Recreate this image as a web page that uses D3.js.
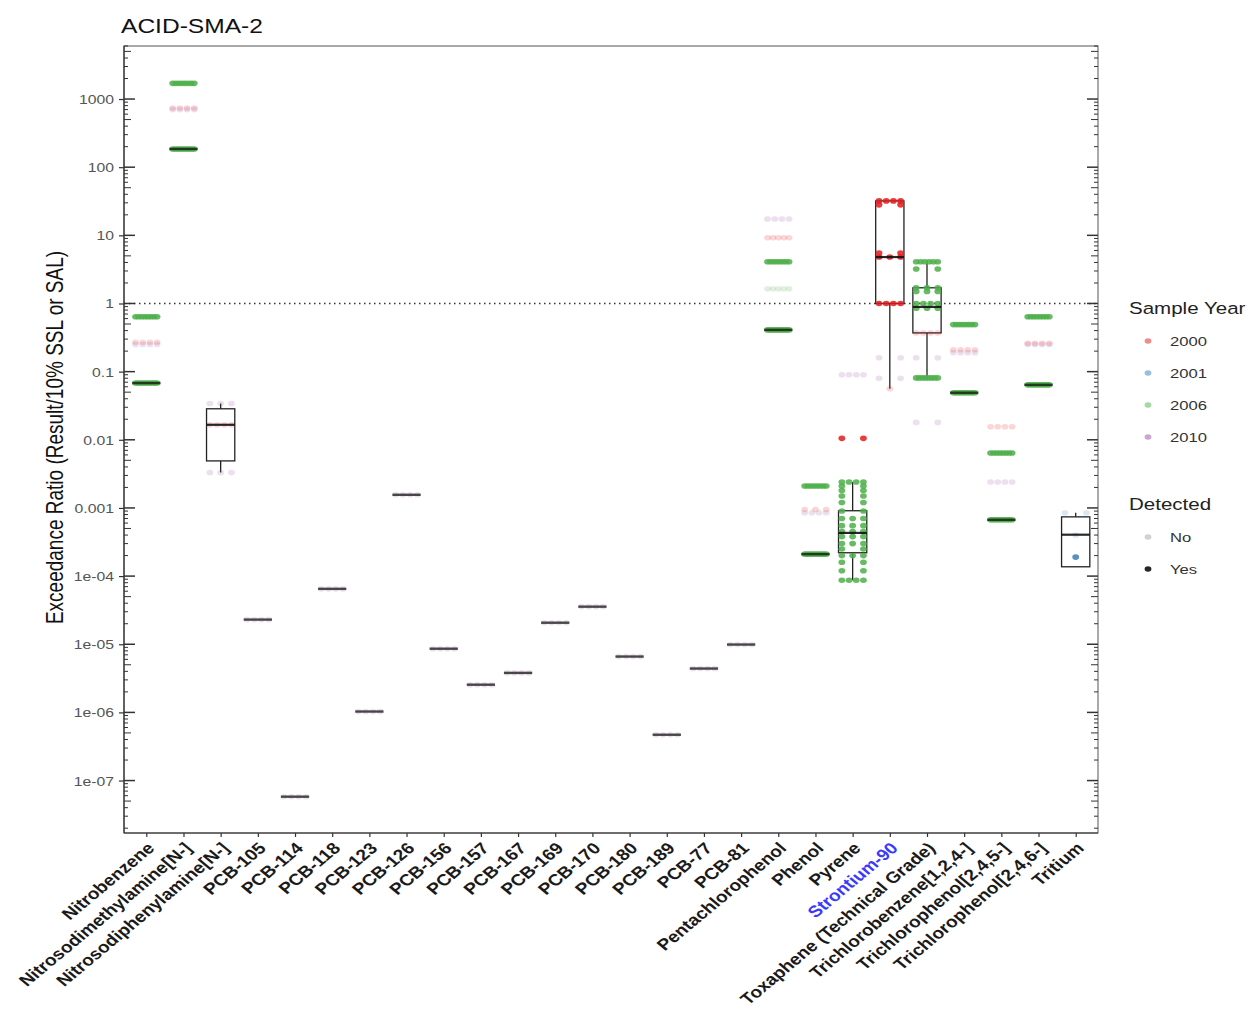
<!DOCTYPE html>
<html>
<head>
<meta charset="utf-8">
<script src="https://cdn.jsdelivr.net/npm/d3@7"></script>
<style>
  body { margin: 0; background: #fff; }
  svg { display: block; font-family: "Liberation Sans", Arial, sans-serif; }
</style>
</head>
<body>
<svg id="chart" width="1250" height="1019"></svg>
<script>
// ---------------- DATA ----------------
const title = "ACID-SMA-2";
const yAxisTitle = "Exceedance Ratio (Result/10% SSL or SAL)";

const categories = [
  "Nitrobenzene", "Nitrosodimethylamine[N-]", "Nitrosodiphenylamine[N-]",
  "PCB-105", "PCB-114", "PCB-118", "PCB-123", "PCB-126", "PCB-156", "PCB-157",
  "PCB-167", "PCB-169", "PCB-170", "PCB-180", "PCB-189", "PCB-77", "PCB-81",
  "Pentachlorophenol", "Phenol", "Pyrene", "Strontium-90",
  "Toxaphene (Technical Grade)", "Trichlorobenzene[1,2,4-]",
  "Trichlorophenol[2,4,5-]", "Trichlorophenol[2,4,6-]", "Tritium"
];
const highlightedCategories = ["Strontium-90"];

// Box statistics per category (same order as categories)
const boxLow    = [0.068, 185, 0.0033, 2.3e-5, 5.8e-8, 6.5e-5, 1.03e-6, 0.00156, 8.6e-6, 2.55e-6, 3.8e-6, 2.07e-5, 3.56e-5, 6.6e-6, 4.7e-7, 4.4e-6, 9.9e-6, 0.41, 0.00021, 8.7e-5, 0.056, 0.081, 0.049, 0.00067, 0.064, 0.000137];
const boxQ1     = [0.068, 185, 0.0049, 2.3e-5, 5.8e-8, 6.5e-5, 1.03e-6, 0.00156, 8.6e-6, 2.55e-6, 3.8e-6, 2.07e-5, 3.56e-5, 6.6e-6, 4.7e-7, 4.4e-6, 9.9e-6, 0.41, 0.00021, 0.00022, 1.0, 0.37, 0.049, 0.00067, 0.064, 0.000137];
const boxMedian = [0.068, 185, 0.0166, 2.3e-5, 5.8e-8, 6.5e-5, 1.03e-6, 0.00156, 8.6e-6, 2.55e-6, 3.8e-6, 2.07e-5, 3.56e-5, 6.6e-6, 4.7e-7, 4.4e-6, 9.9e-6, 0.41, 0.00021, 0.00043, 4.8, 0.89, 0.049, 0.00067, 0.064, 0.000405];
const boxQ3     = [0.068, 185, 0.0285, 2.3e-5, 5.8e-8, 6.5e-5, 1.03e-6, 0.00156, 8.6e-6, 2.55e-6, 3.8e-6, 2.07e-5, 3.56e-5, 6.6e-6, 4.7e-7, 4.4e-6, 9.9e-6, 0.41, 0.00021, 0.00091, 32, 1.7, 0.049, 0.00067, 0.064, 0.00074];
const boxHigh   = [0.068, 185, 0.034, 2.3e-5, 5.8e-8, 6.5e-5, 1.03e-6, 0.00156, 8.6e-6, 2.55e-6, 3.8e-6, 2.07e-5, 3.56e-5, 6.6e-6, 4.7e-7, 4.4e-6, 9.9e-6, 0.41, 0.00021, 0.0024, 32, 4.1, 0.049, 0.00067, 0.064, 0.00085];

// Sample points, grouped (category, value, year, detected, count)
const pointCategory = [
  "Nitrobenzene","Nitrobenzene","Nitrobenzene","Nitrobenzene",
  "Nitrosodimethylamine[N-]","Nitrosodimethylamine[N-]","Nitrosodimethylamine[N-]","Nitrosodimethylamine[N-]",
  "Nitrosodiphenylamine[N-]","Nitrosodiphenylamine[N-]","Nitrosodiphenylamine[N-]",
  "PCB-105","PCB-114","PCB-118","PCB-123","PCB-126","PCB-156","PCB-157","PCB-167","PCB-169","PCB-170","PCB-180","PCB-189","PCB-77","PCB-81",
  "Pentachlorophenol","Pentachlorophenol","Pentachlorophenol","Pentachlorophenol","Pentachlorophenol",
  "Phenol","Phenol","Phenol","Phenol",
  "Pyrene","Pyrene","Pyrene","Pyrene","Pyrene","Pyrene","Pyrene","Pyrene","Pyrene","Pyrene","Pyrene","Pyrene","Pyrene","Pyrene","Pyrene","Pyrene","Pyrene","Pyrene",
  "Strontium-90","Strontium-90","Strontium-90","Strontium-90","Strontium-90","Strontium-90","Strontium-90","Strontium-90",
  "Toxaphene (Technical Grade)","Toxaphene (Technical Grade)","Toxaphene (Technical Grade)","Toxaphene (Technical Grade)","Toxaphene (Technical Grade)","Toxaphene (Technical Grade)","Toxaphene (Technical Grade)","Toxaphene (Technical Grade)","Toxaphene (Technical Grade)","Toxaphene (Technical Grade)",
  "Trichlorobenzene[1,2,4-]","Trichlorobenzene[1,2,4-]","Trichlorobenzene[1,2,4-]","Trichlorobenzene[1,2,4-]",
  "Trichlorophenol[2,4,5-]","Trichlorophenol[2,4,5-]","Trichlorophenol[2,4,5-]","Trichlorophenol[2,4,5-]",
  "Trichlorophenol[2,4,6-]","Trichlorophenol[2,4,6-]","Trichlorophenol[2,4,6-]","Trichlorophenol[2,4,6-]",
  "Tritium","Tritium","Tritium"
];
const pointValue = [
  0.64, 0.27, 0.25, 0.068,
  1700, 740, 700, 185,
  0.034, 0.0166, 0.0033,
  2.3e-5, 5.8e-8, 6.5e-5, 1.03e-6, 0.00156, 8.6e-6, 2.55e-6, 3.8e-6, 2.07e-5, 3.56e-5, 6.6e-6, 4.7e-7, 4.4e-6, 9.9e-6,
  17.4, 9.2, 4.1, 1.64, 0.41,
  0.0021, 0.00095, 0.00085, 0.00021,
  0.09, 0.0105, 0.0024, 0.0021, 0.0018, 0.0015, 0.0012, 0.0009, 0.0007, 0.00055, 0.00045, 0.00038, 0.0003, 0.00025, 0.0002, 0.00016, 0.00012, 8.7e-5,
  32, 28, 5.5, 4.8, 1.0, 0.16, 0.08, 0.056,
  4.1, 3.2, 1.5, 1.0, 0.85, 0.37, 0.16, 0.081, 0.018, 1.7,
  0.49, 0.21, 0.19, 0.049,
  0.0155, 0.0064, 0.0024, 0.00067,
  0.64, 0.26, 0.25, 0.064,
  0.00085, 0.0004, 0.00019
];
const pointYear = [
  2006, 2000, 2010, 2006,
  2006, 2000, 2010, 2006,
  2010, 2000, 2010,
  2010, 2010, 2010, 2010, 2010, 2010, 2010, 2010, 2010, 2010, 2010, 2010, 2010, 2010,
  2010, 2000, 2006, 2006, 2006,
  2006, 2000, 2010, 2006,
  2010, 2000, 2006, 2006, 2006, 2006, 2006, 2006, 2006, 2006, 2006, 2006, 2006, 2006, 2006, 2006, 2006, 2006,
  2000, 2000, 2000, 2000, 2000, 2010, 2010, 2000,
  2006, 2006, 2006, 2006, 2006, 2000, 2010, 2006, 2010, 2006,
  2006, 2000, 2010, 2006,
  2000, 2006, 2010, 2006,
  2006, 2000, 2010, 2006,
  2001, 2001, 2001
];
const pointDetected = [
  "Yes", "No", "No", "Yes",
  "Yes", "No", "No", "Yes",
  "No", "No", "No",
  "No", "No", "No", "No", "No", "No", "No", "No", "No", "No", "No", "No", "No", "No",
  "No", "No", "Yes", "No", "Yes",
  "Yes", "No", "No", "Yes",
  "No", "Yes", "Yes", "Yes", "Yes", "Yes", "Yes", "Yes", "Yes", "Yes", "Yes", "Yes", "Yes", "Yes", "Yes", "Yes", "Yes", "Yes",
  "Yes", "Yes", "Yes", "Yes", "Yes", "No", "No", "No",
  "Yes", "Yes", "Yes", "Yes", "Yes", "No", "No", "Yes", "No", "Yes",
  "Yes", "No", "No", "Yes",
  "No", "Yes", "No", "Yes",
  "Yes", "No", "No", "Yes",
  "No", "No", "Yes"
];
const pointCount = [
  8, 4, 4, 10,
  8, 4, 4, 10,
  3, 4, 3,
  4, 4, 4, 4, 4, 4, 4, 4, 4, 4, 4, 4, 4, 4,
  4, 5, 8, 5, 10,
  8, 3, 4, 10,
  4, 2, 4, 2, 2, 2, 2, 2, 3, 3, 3, 3, 3, 2, 3, 2, 2, 4,
  4, 2, 2, 3, 4, 2, 2, 1,
  6, 2, 3, 4, 3, 4, 2, 8, 2, 3,
  8, 4, 4, 10,
  4, 8, 4, 10,
  8, 4, 4, 10,
  2, 1, 1
];

const yearLevels = [2000, 2001, 2006, 2010];
const yearColors = ["#E41A1C", "#377EB8", "#4DAF4A", "#984EA3"];
const detectedLevels = ["No", "Yes"];
const detectedAlpha = [0.18, 0.85];

const yTickValues = [1000, 100, 10, 1, 0.1, 0.01, 0.001, 1e-4, 1e-5, 1e-6, 1e-7];
const yTickLabels = ["1000", "100", "10", "1", "0.1", "0.01", "0.001", "1e-04", "1e-05", "1e-06", "1e-07"];
const referenceLine = 1;

// ---------------- LAYOUT ----------------
const SX = 1.26;   // horizontal text stretch seen in the reference
const SXL = 1.2;   // stretch for the rotated category labels
const svg = d3.select("#chart");
const P = { left: 124, right: 1098, top: 46, bottom: 833 };

const x = d3.scalePoint().domain(categories).range([P.left, P.right]).padding(0.6);
const step = x.step();
const y = d3.scaleLog().domain([1.7e-8, 6000]).range([P.bottom, P.top]);
const colorScale = d3.scaleOrdinal().domain(yearLevels).range(yearColors);
const alphaScale = d3.scaleOrdinal().domain(detectedLevels).range(detectedAlpha);

const g = svg.append("g");

// title
svg.append("text").attr("transform", `translate(121,33) scale(${SX},1)`)
  .attr("font-size", 19.5).attr("fill", "#111").text(title);

// y axis title
svg.append("text")
  .attr("transform", `translate(63,${(P.top + P.bottom) / 2 - 2}) rotate(-90) scale(1,${SX})`)
  .attr("text-anchor", "middle").attr("font-size", 19).attr("fill", "#111")
  .text(yAxisTitle);

// clip for panel
svg.append("clipPath").attr("id", "panel")
  .append("rect").attr("x", P.left).attr("y", P.top)
  .attr("width", P.right - P.left).attr("height", P.bottom - P.top);

const panel = g.append("g").attr("clip-path", "url(#panel)");

// reference line
panel.append("line")
  .attr("x1", P.left).attr("x2", P.right)
  .attr("y1", y(referenceLine)).attr("y2", y(referenceLine))
  .attr("stroke", "#333").attr("stroke-width", 1.4)
  .attr("stroke-dasharray", "1.5,3.5");

// boxplots
const boxW = step * 0.76;
const boxes = categories.map((c, i) => ({
  c, lo: boxLow[i], q1: boxQ1[i], med: boxMedian[i], q3: boxQ3[i], hi: boxHigh[i]
}));
const bg = panel.append("g");
boxes.forEach(b => {
  const cx = x(b.c);
  bg.append("line").attr("x1", cx).attr("x2", cx)
    .attr("y1", y(b.q3)).attr("y2", y(b.hi))
    .attr("stroke", "#222").attr("stroke-width", 1.3);
  bg.append("line").attr("x1", cx).attr("x2", cx)
    .attr("y1", y(b.q1)).attr("y2", y(b.lo))
    .attr("stroke", "#222").attr("stroke-width", 1.3);
  bg.append("rect").attr("x", cx - boxW / 2).attr("width", boxW)
    .attr("y", y(b.q3)).attr("height", Math.max(0, y(b.q1) - y(b.q3)))
    .attr("fill", "white").attr("fill-opacity", 0)
    .attr("stroke", "#222").attr("stroke-width", 1.3);
});

// points (deterministic horizontal spread)
const pts = [];
pointValue.forEach((v, i) => {
  const n = pointCount[i];
  for (let k = 0; k < n; k++) {
    const frac = n === 1 ? 0.5 : k / (n - 1);
    pts.push({
      c: pointCategory[i], v, year: pointYear[i], det: pointDetected[i],
      dx: (frac - 0.5) * step * 0.58
    });
  }
});
panel.append("g").selectAll("ellipse").data(pts).join("ellipse")
  .attr("cx", d => x(d.c) + d.dx)
  .attr("cy", d => y(d.v))
  .attr("rx", 3.4).attr("ry", 2.8)
  .attr("fill", d => colorScale(d.year))
  .attr("fill-opacity", d => alphaScale(d.det));

// medians on top
const mg = panel.append("g");
boxes.forEach(b => {
  const cx = x(b.c);
  const collapsed = b.q1 === b.q3;
  mg.append("line").attr("x1", cx - boxW / 2).attr("x2", cx + boxW / 2)
    .attr("y1", y(b.med)).attr("y2", y(b.med))
    .attr("stroke", "#111").attr("stroke-opacity", collapsed ? 0.75 : 0.9)
    .attr("stroke-width", collapsed ? 2.4 : 2.2);
});

// panel border
g.append("rect").attr("x", P.left).attr("y", P.top)
  .attr("width", P.right - P.left).attr("height", P.bottom - P.top)
  .attr("fill", "none").attr("stroke", "#555").attr("stroke-width", 1);
g.append("line").attr("x1", P.left).attr("x2", P.left).attr("y1", P.top).attr("y2", P.bottom)
  .attr("stroke", "#333").attr("stroke-width", 1.2);
g.append("line").attr("x1", P.left).attr("x2", P.right).attr("y1", P.bottom).attr("y2", P.bottom)
  .attr("stroke", "#333").attr("stroke-width", 1.2);

// log ticks inside on both sides
const logTicks = [];
for (let k = -8; k <= 3; k++) {
  for (let m = 1; m <= 9; m++) {
    const v = m * Math.pow(10, k);
    if (v >= y.domain()[0] && v <= y.domain()[1]) logTicks.push({ v, m });
  }
}
const tickLen = m => m === 1 ? 11 : (m === 5 ? 7 : 4);
g.append("g").selectAll("line.lt").data(logTicks).join("line")
  .attr("x1", P.left).attr("x2", d => P.left + tickLen(d.m))
  .attr("y1", d => y(d.v)).attr("y2", d => y(d.v))
  .attr("stroke", "#333").attr("stroke-width", d => d.m === 1 ? 1.5 : 1);
g.append("g").selectAll("line.rt").data(logTicks).join("line")
  .attr("x1", P.right).attr("x2", d => P.right - tickLen(d.m))
  .attr("y1", d => y(d.v)).attr("y2", d => y(d.v))
  .attr("stroke", "#333").attr("stroke-width", d => d.m === 1 ? 1.5 : 1);

// y axis (outer ticks + labels)
const yAxis = d3.axisLeft(y).tickValues(yTickValues)
  .tickFormat((d, i) => yTickLabels[i]).tickSize(5);
const ya = g.append("g").attr("transform", `translate(${P.left},0)`).call(yAxis);
ya.select(".domain").remove();
ya.selectAll(".tick line").attr("stroke", "#333").attr("stroke-width", 1.2);
ya.selectAll(".tick text")
  .attr("x", 0).attr("dy", "0.36em")
  .attr("transform", `translate(-10,0) scale(${SX},1)`)
  .attr("font-size", 12.5).attr("fill", "#555")
  .attr("font-family", "Liberation Sans, Arial, sans-serif");

// x axis
const xAxis = d3.axisBottom(x).tickSize(4);
const xa = g.append("g").attr("transform", `translate(0,${P.bottom})`).call(xAxis);
xa.select(".domain").remove();
xa.selectAll(".tick line").attr("stroke", "#333").attr("stroke-width", 1.2);
xa.selectAll(".tick text")
  .attr("x", 0).attr("y", 0)
  .attr("font-size", 16).attr("font-weight", "bold")
  .attr("font-family", "Liberation Sans, Arial, sans-serif")
  .attr("fill", d => highlightedCategories.includes(d) ? "#3a3aff" : "#1a1a1a")
  .attr("text-anchor", "end")
  .attr("dy", "0.72em")
  .attr("transform", `translate(-1,8) scale(${SXL},1) rotate(-45)`);

// legend
const lg = svg.append("g").attr("font-family", "Liberation Sans, Arial, sans-serif");
lg.append("text").attr("transform", `translate(1129,314) scale(${SX},1)`)
  .attr("font-size", 16.3).attr("fill", "#222").text("Sample Year");
yearLevels.forEach((yr, i) => {
  const cy = 341 + i * 32;
  lg.append("ellipse").attr("cx", 1148).attr("cy", cy).attr("rx", 3.4).attr("ry", 2.8)
    .attr("fill", colorScale(yr)).attr("fill-opacity", 0.5);
  lg.append("text").attr("transform", `translate(1170,${cy + 5}) scale(${SX},1)`)
    .attr("font-size", 13.2).attr("fill", "#333").text(yr);
});
lg.append("text").attr("transform", `translate(1129,510) scale(${SX},1)`)
  .attr("font-size", 16.3).attr("fill", "#222").text("Detected");
detectedLevels.forEach((d, i) => {
  const cy = 537 + i * 32;
  lg.append("ellipse").attr("cx", 1148).attr("cy", cy).attr("rx", 3.4).attr("ry", 2.8)
    .attr("fill", "#000").attr("fill-opacity", alphaScale(d));
  lg.append("text").attr("transform", `translate(1170,${cy + 5}) scale(${SX},1)`)
    .attr("font-size", 13.2).attr("fill", "#333").text(d);
});
</script>
</body>
</html>
